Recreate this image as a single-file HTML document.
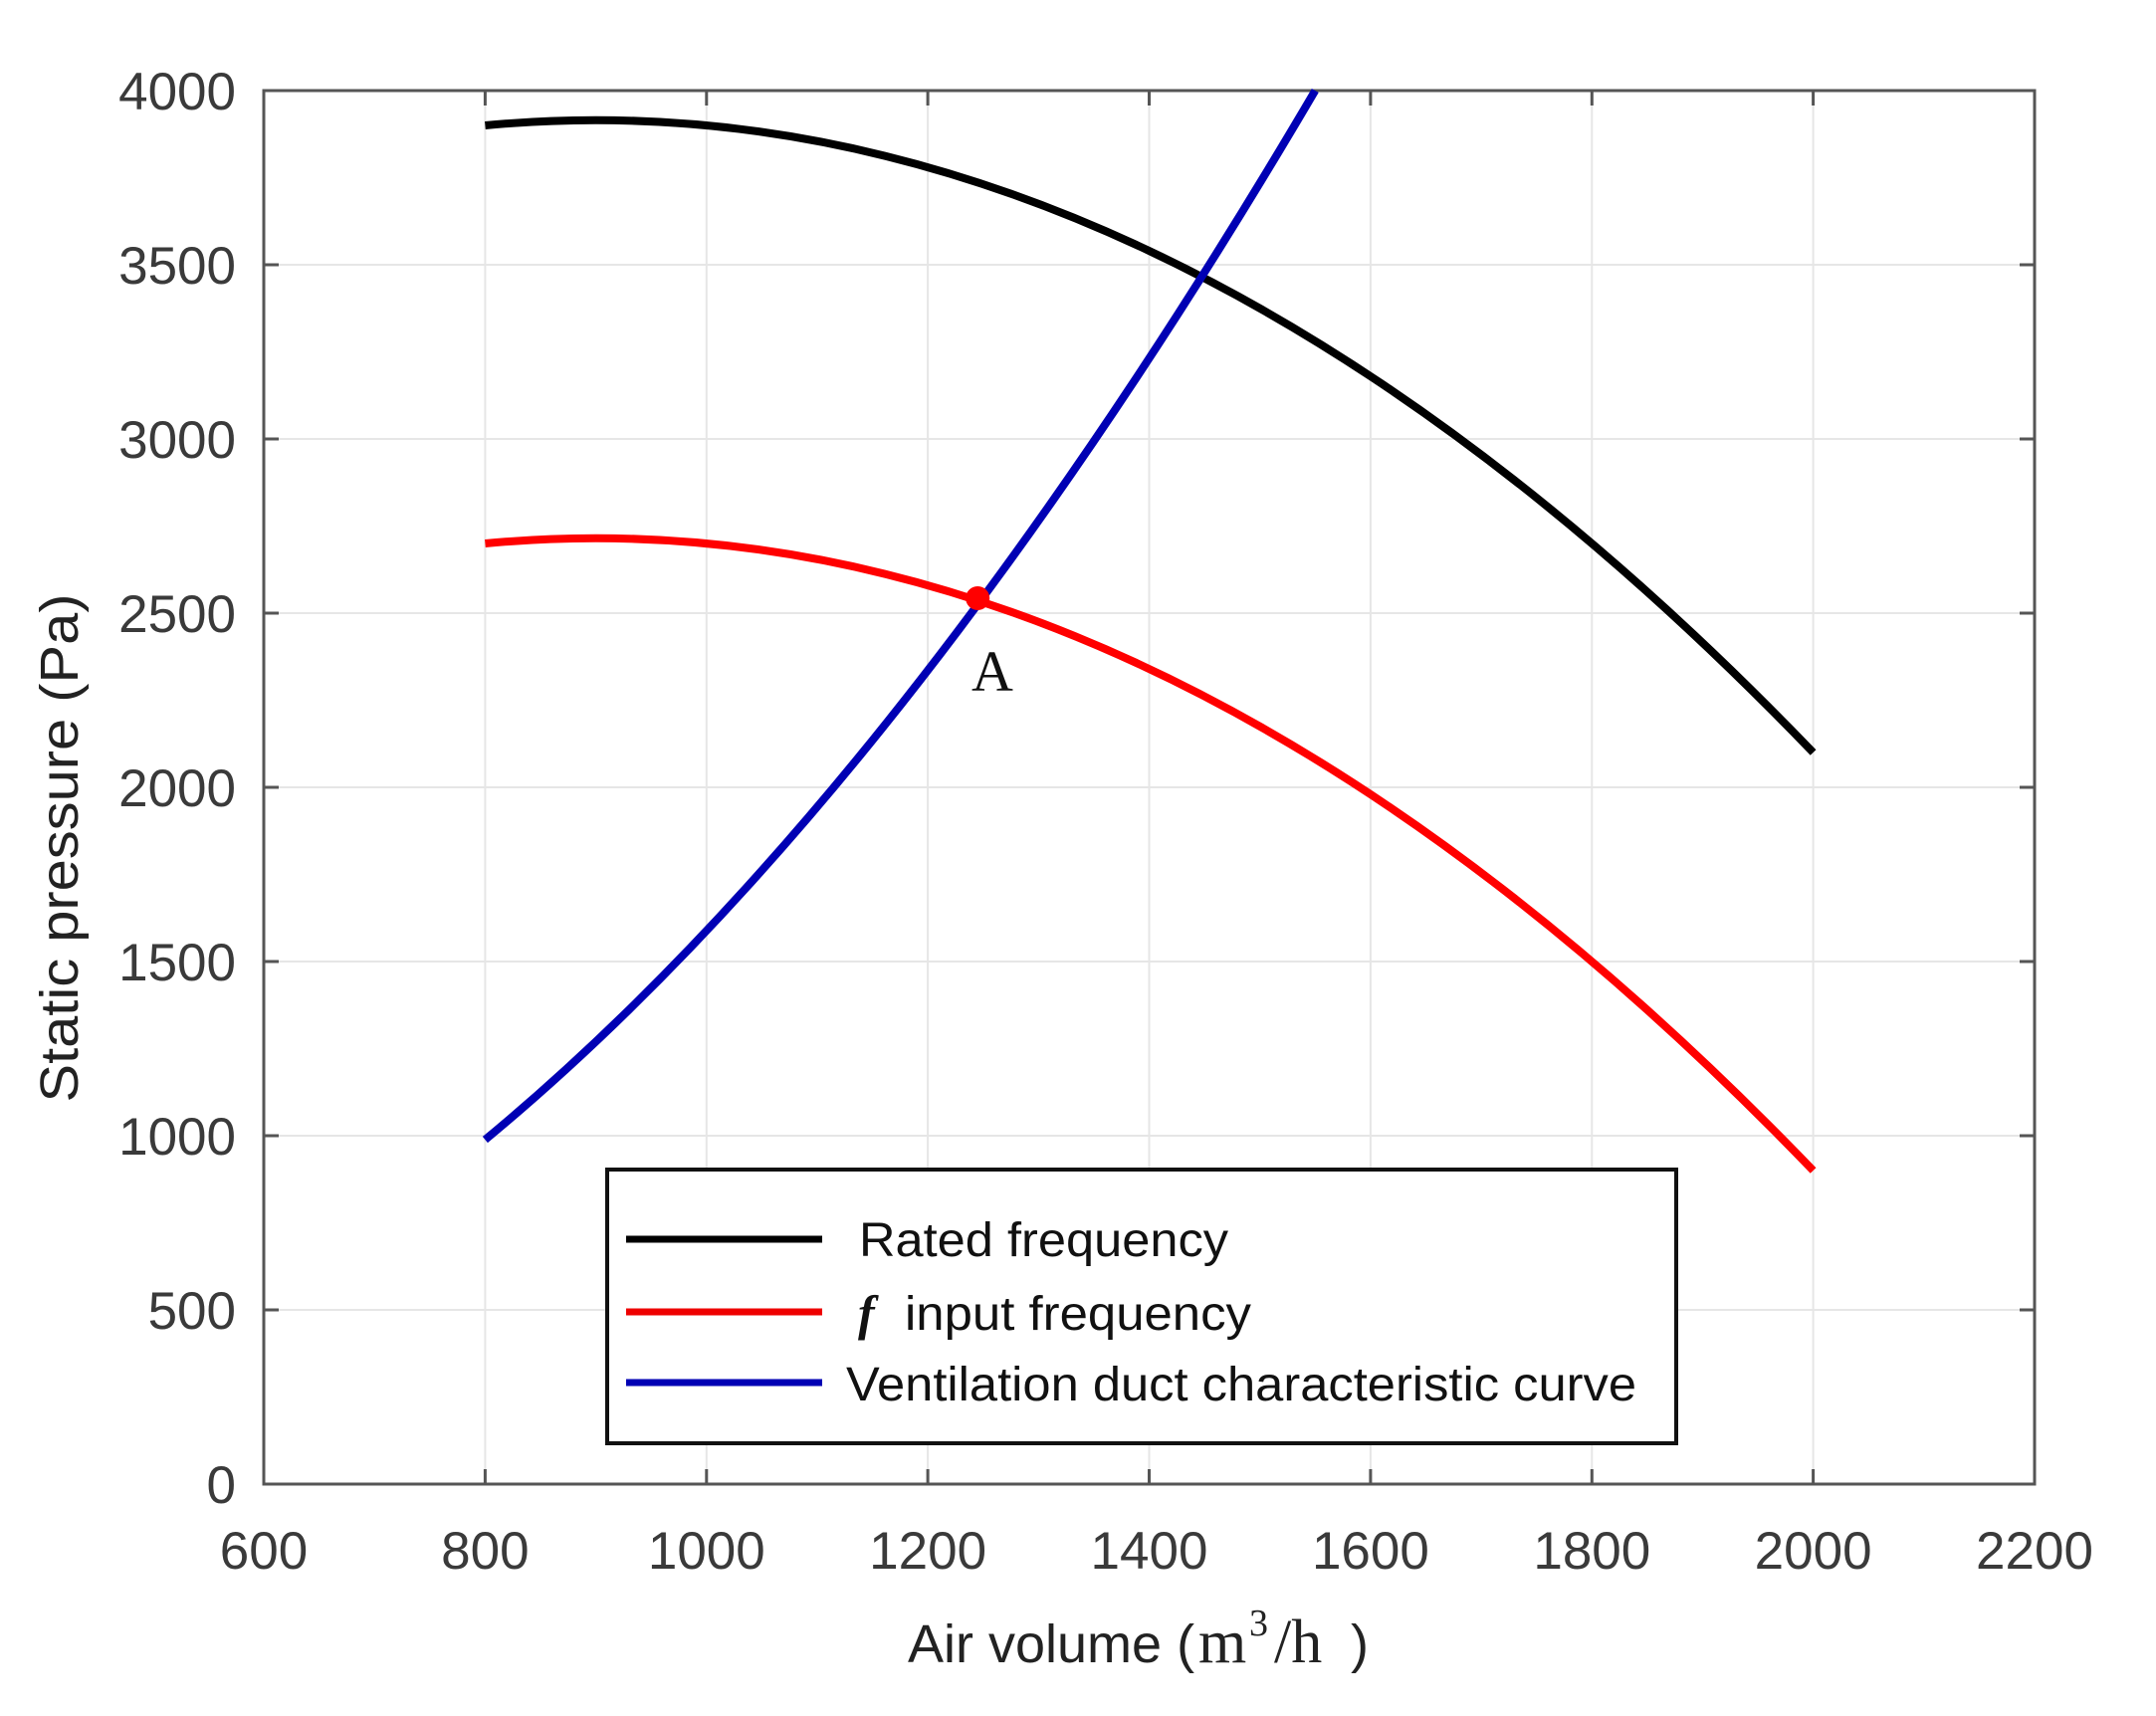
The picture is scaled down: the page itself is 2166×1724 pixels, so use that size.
<!DOCTYPE html>
<html><head><meta charset="utf-8"><style>
html,body{margin:0;padding:0;background:#fff;}
svg{display:block;}
.s{font-family:"Liberation Sans",sans-serif;}
.r{font-family:"Liberation Serif",serif;}
</style></head><body>
<svg width="2166" height="1724" viewBox="0 0 2166 1724" xmlns="http://www.w3.org/2000/svg">
<rect width="2166" height="1724" fill="#fff"/>
<g stroke="#e6e6e6" stroke-width="2">
<line x1="487.4" y1="91" x2="487.4" y2="1491"/>
<line x1="709.8" y1="91" x2="709.8" y2="1491"/>
<line x1="932.1" y1="91" x2="932.1" y2="1491"/>
<line x1="1154.5" y1="91" x2="1154.5" y2="1491"/>
<line x1="1376.9" y1="91" x2="1376.9" y2="1491"/>
<line x1="1599.3" y1="91" x2="1599.3" y2="1491"/>
<line x1="1821.6" y1="91" x2="1821.6" y2="1491"/>
<line x1="265" y1="266" x2="2044" y2="266"/>
<line x1="265" y1="441" x2="2044" y2="441"/>
<line x1="265" y1="616" x2="2044" y2="616"/>
<line x1="265" y1="791" x2="2044" y2="791"/>
<line x1="265" y1="966" x2="2044" y2="966"/>
<line x1="265" y1="1141" x2="2044" y2="1141"/>
<line x1="265" y1="1316" x2="2044" y2="1316"/>
</g>
<g stroke="#555" stroke-width="3">
<path d="M487.4 1491v-15M709.8 1491v-15M932.1 1491v-15M1154.5 1491v-15M1376.9 1491v-15M1599.3 1491v-15M1821.6 1491v-15"/>
<path d="M487.4 91v15M709.8 91v15M932.1 91v15M1154.5 91v15M1376.9 91v15M1599.3 91v15M1821.6 91v15"/>
<path d="M265 266h15M265 441h15M265 616h15M265 791h15M265 966h15M265 1141h15M265 1316h15"/>
<path d="M2044 266h-15M2044 441h-15M2044 616h-15M2044 791h-15M2044 966h-15M2044 1141h-15M2044 1316h-15"/>
</g>
<rect x="265" y="91" width="1779" height="1400" fill="none" stroke="#555" stroke-width="3"/>
<g class="s" fill="#3a3a3a" font-size="53" text-anchor="end">
<text x="237" y="110">4000</text>
<text x="237" y="285">3500</text>
<text x="237" y="460">3000</text>
<text x="237" y="635">2500</text>
<text x="237" y="810">2000</text>
<text x="237" y="985">1500</text>
<text x="237" y="1160">1000</text>
<text x="237" y="1335">500</text>
<text x="237" y="1510">0</text>
</g>
<g class="s" fill="#3a3a3a" font-size="53" text-anchor="middle">
<text x="265" y="1576">600</text>
<text x="487.4" y="1576">800</text>
<text x="709.8" y="1576">1000</text>
<text x="932.1" y="1576">1200</text>
<text x="1154.5" y="1576">1400</text>
<text x="1376.9" y="1576">1600</text>
<text x="1599.3" y="1576">1800</text>
<text x="1821.6" y="1576">2000</text>
<text x="2044" y="1576">2200</text>
</g>
<text class="s" x="912" y="1670" font-size="54" fill="#222">Air volume (</text>
<text class="r" x="1204" y="1670" font-size="62" fill="#222">m</text>
<text class="r" x="1255" y="1643" font-size="38" fill="#222">3</text>
<text class="r" x="1280" y="1670" font-size="62" fill="#222">/h</text>
<text class="s" x="1357" y="1670" font-size="54" fill="#222">)</text>
<text class="s" transform="translate(78,852) rotate(-90)" text-anchor="middle" font-size="54" fill="#222" textLength="511" lengthAdjust="spacingAndGlyphs">Static pressure (Pa)</text>
<g fill="none" stroke-width="8" stroke-linecap="butt">
<path d="M487.4 126 Q1154.5 63 1821.6 756" stroke="#000"/>
<path d="M487.4 546 Q1154.5 483 1821.6 1176" stroke="#f00"/>
<path d="M487.4 1145 Q904.3 800 1321.3 91" stroke="#0000b4"/>
</g>
<circle cx="982.2" cy="601" r="12" fill="#f00"/>
<text class="r" x="976" y="694" font-size="58" fill="#111">A</text>
<rect x="610" y="1175" width="1074" height="275" fill="#fff" stroke="#111" stroke-width="4"/>
<line x1="629" y1="1245" x2="826" y2="1245" stroke="#000" stroke-width="7"/>
<line x1="629" y1="1318" x2="826" y2="1318" stroke="#e00" stroke-width="7"/>
<line x1="629" y1="1389" x2="826" y2="1389" stroke="#0000b4" stroke-width="7"/>
<g class="s" font-size="48" fill="#111">
<text x="863" y="1262" textLength="371" lengthAdjust="spacingAndGlyphs">Rated frequency</text>
<text x="909" y="1336" textLength="348" lengthAdjust="spacingAndGlyphs">input frequency</text>
<text x="850" y="1407" textLength="794" lengthAdjust="spacingAndGlyphs">Ventilation duct characteristic curve</text>
</g>
<text class="r" x="862" y="1336" font-size="50" font-style="italic" font-weight="bold" fill="#111">f</text>
</svg>
</body></html>
